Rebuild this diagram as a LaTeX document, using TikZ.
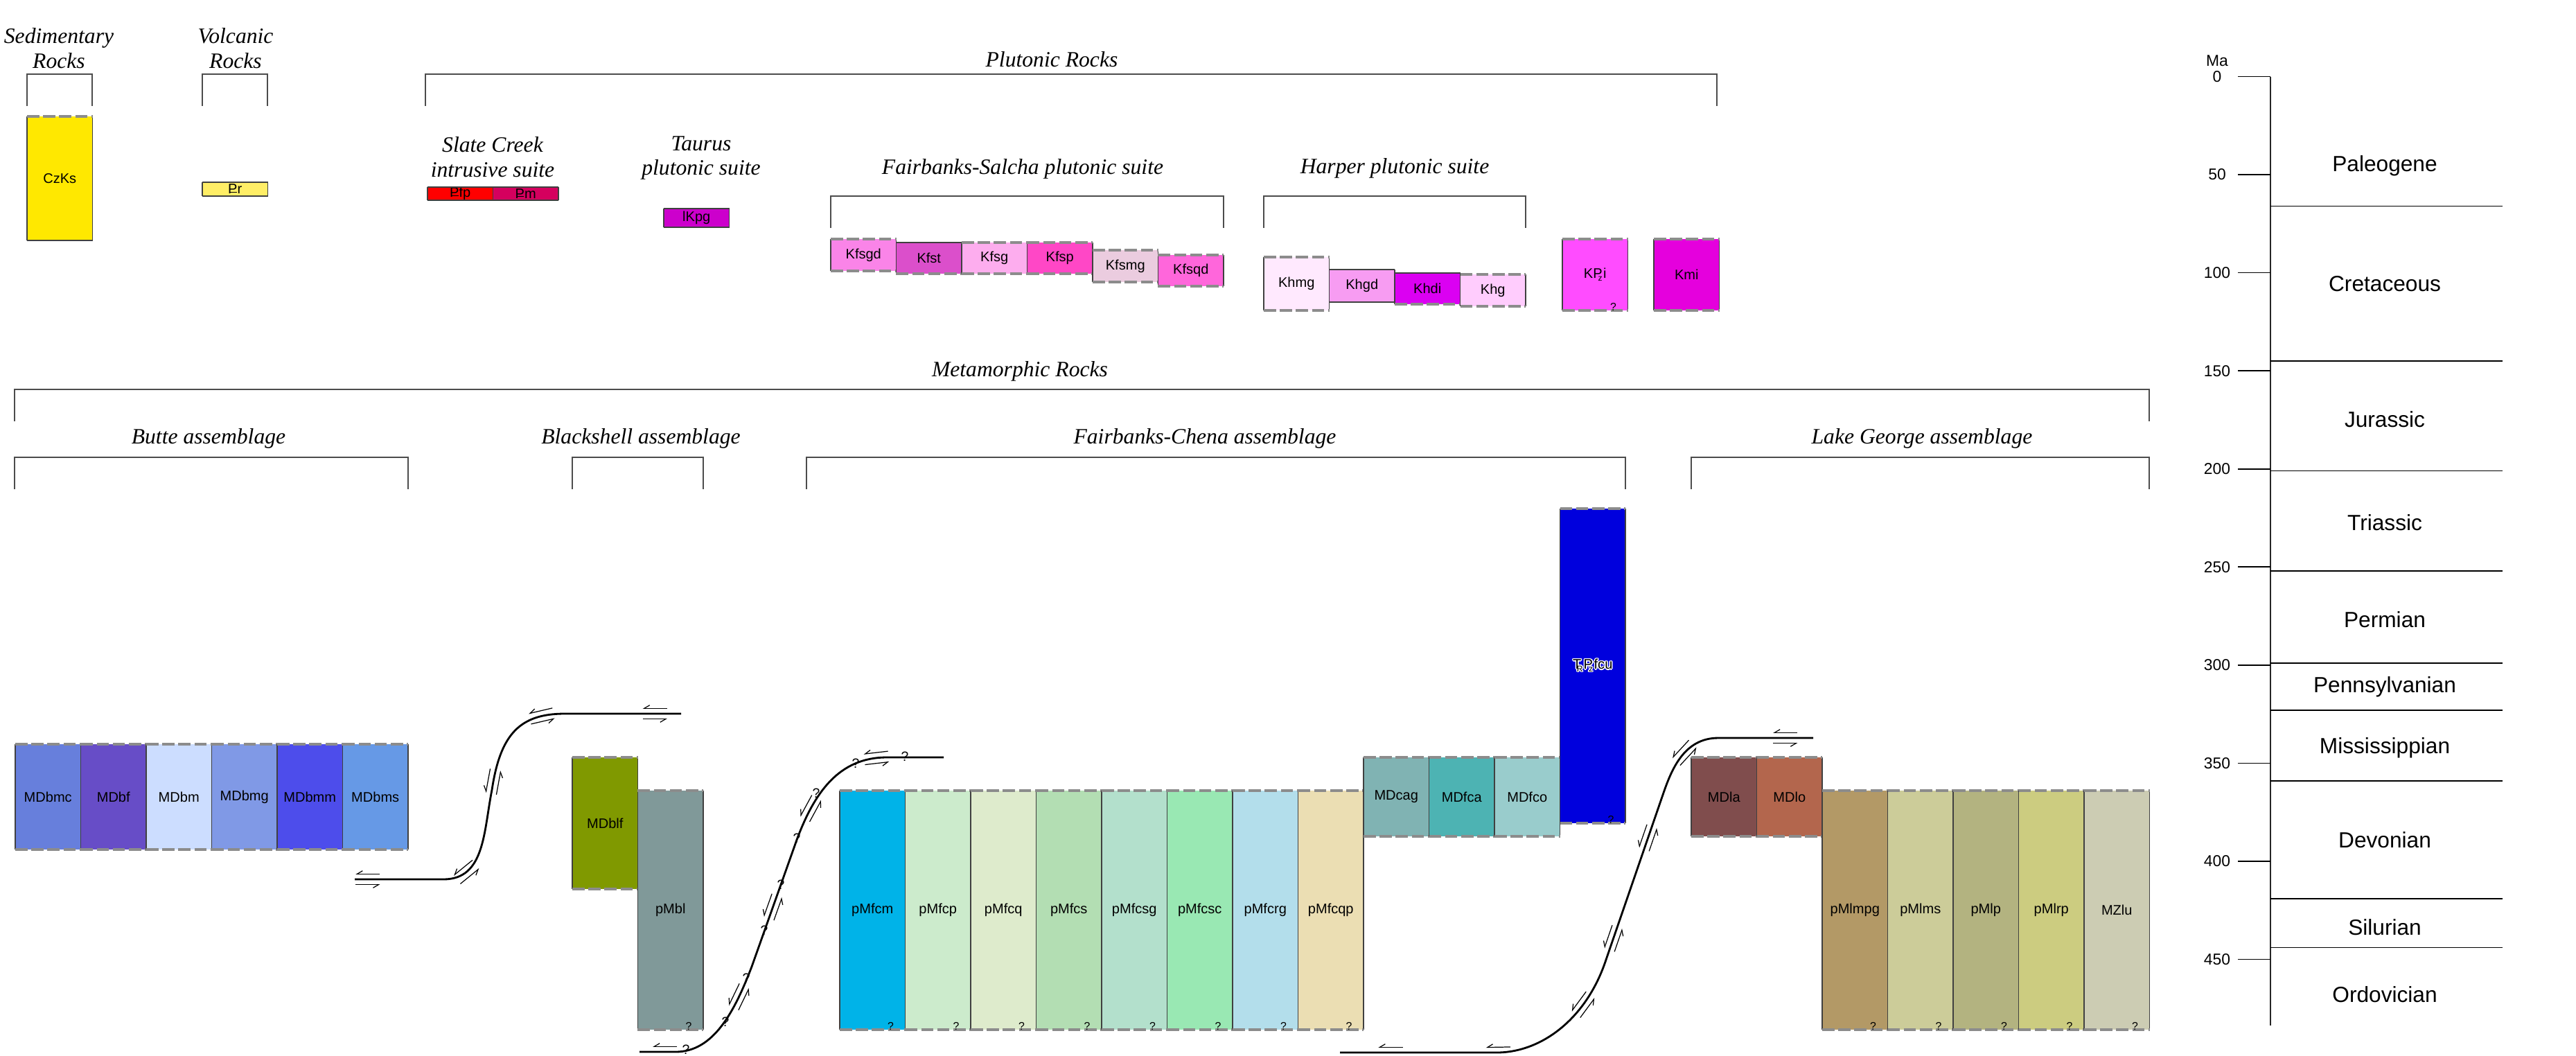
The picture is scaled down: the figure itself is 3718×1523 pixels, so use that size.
\documentclass[tikz,border=0pt]{standalone}
\usepackage{fontspec}
\setmainfont{Liberation Sans}
\newfontfamily\capfont{Liberation Serif}
\usepackage{contour}
\contourlength{0.45pt}
\contournumber{8}
\usetikzlibrary{arrows.meta,decorations.markings}

\definecolor{CzKs}{HTML}{FFE800}
\definecolor{Pr}{HTML}{FFEE66}
\definecolor{Pfp}{HTML}{FF0000}
\definecolor{Pm}{HTML}{D5005E}
\definecolor{lKpg}{HTML}{CC00CC}
\definecolor{Kfsgd}{HTML}{FA84E8}
\definecolor{Kfst}{HTML}{DB4FCB}
\definecolor{Kfsg}{HTML}{FDADEE}
\definecolor{Kfsp}{HTML}{FF47C6}
\definecolor{Kfsmg}{HTML}{EBCCDF}
\definecolor{Kfsqd}{HTML}{FF66DB}
\definecolor{Khmg}{HTML}{FFE9FE}
\definecolor{Khgd}{HTML}{F79CF2}
\definecolor{Khdi}{HTML}{DB00F2}
\definecolor{Khg}{HTML}{FFCCFD}
\definecolor{KPzi}{HTML}{FF4CFF}
\definecolor{Kmi}{HTML}{E500DD}
\definecolor{MDbmc}{HTML}{677FDC}
\definecolor{MDbf}{HTML}{674DC7}
\definecolor{MDbm}{HTML}{CCDDFF}
\definecolor{MDbmg}{HTML}{8099E6}
\definecolor{MDbmm}{HTML}{4D4DEB}
\definecolor{MDbms}{HTML}{6699E6}
\definecolor{MDblf}{HTML}{809900}
\definecolor{pMbl}{HTML}{809999}
\definecolor{pMfcm}{HTML}{00B3E8}
\definecolor{pMfcp}{HTML}{CCEBCC}
\definecolor{pMfcq}{HTML}{DEEBCC}
\definecolor{pMfcs}{HTML}{B3DEB3}
\definecolor{pMfcsg}{HTML}{B3E0CC}
\definecolor{pMfcsc}{HTML}{99E8B3}
\definecolor{pMfcrg}{HTML}{B3DEEB}
\definecolor{pMfcqp}{HTML}{EBDEB3}
\definecolor{MDcag}{HTML}{80B3B3}
\definecolor{MDfca}{HTML}{4DB3B3}
\definecolor{MDfco}{HTML}{99CCCC}
\definecolor{TRPzfcu}{HTML}{0000DD}
\definecolor{MDla}{HTML}{804D4D}
\definecolor{MDlo}{HTML}{B3664D}
\definecolor{pMlmpg}{HTML}{B39966}
\definecolor{pMlms}{HTML}{CCCC99}
\definecolor{pMlp}{HTML}{B3B380}
\definecolor{pMlrp}{HTML}{CCCC80}
\definecolor{MZlu}{HTML}{CCCCB3}

\newcommand{\Pgsym}{P\kern-0.55em\rule[0.2ex]{0.5em}{0.09ex}\kern0.05em}
\newcommand{\Pzsym}{P\kern-0.3em\raisebox{-0.35ex}{\scalebox{0.6}{z}}\kern0.08em}
\newcommand{\TRsym}{T\kern-0.32em\raisebox{-0.35ex}{\scalebox{0.6}{R}}\kern0.05em}

\tikzset{
	rock/.style={rectangle, inner sep=0pt, outer sep=0pt, minimum width=0.945cm, font=\fontsize{5.7}{6.5}\selectfont},
	side/.style={draw=black!75, line width=0.45pt},
	rim/.style={draw=black!75, line width=0.6pt},
	contact/.style={draw=black!45, line width=0.9pt, dash pattern=on 5pt off 1.6pt},
	query/.style={inner sep=0pt, font=\fontsize{4.5}{5}\selectfont},
	capt/.style={inner sep=0pt, align=center, font=\capfont\itshape\fontsize{9}{10.2}\selectfont},
	bracket/.style={draw=black!70, line width=0.7pt},
	fault/.style={line width=0.8pt, postaction={decorate}},
	slipline/.style={line width=0.35pt, -{Straight Barb[right, length=2.2pt, width=2.6pt]}},
	slip/.pic={\draw[slipline] (5pt,2.2pt) -- (-5pt,2.2pt); \draw[slipline] (-5pt,-2.2pt) -- (5pt,-2.2pt);},
	ma/.style={inner sep=0pt, font=\fontsize{6.5}{7}\selectfont},
	period/.style={inner sep=0pt, font=\fontsize{9}{10}\selectfont},
}

\newcommand{\rockcol}[7]{%
	\node[rock, fill=#1, minimum height={(#4-#3)*0.01cm}] (#1) at ({#2+47.25},{(#3+#4)/2}) {#5};
	\draw[side] (#1.north west) -- (#1.south west) (#1.north east) -- (#1.south east);
	\draw[#6] (#1.north west) -- (#1.north east);
	\draw[#7] (#1.south west) -- (#1.south east);
}
\newcommand{\askq}[1]{\node[query] (#1q) at ([xshift=-0.21cm,yshift=0.05cm]#1.south east) {?};}

\begin{document}
\begin{tikzpicture}[x=0.01cm, y=-0.01cm]
	\useasboundingbox (0,0) rectangle (3718,1523);

	\node[capt] (sedt) at (85,70) {Sedimentary\\Rocks};
	\node[capt] (volt) at (340,70) {Volcanic\\Rocks};
	\node[capt] (plut) at (1518,86) {Plutonic Rocks};
	\node[capt] (slat) at (711,227) {Slate Creek\\intrusive suite};
	\node[capt] (taut) at (1012,228) {Taurus\\plutonic suite};
	\node[capt] (fsat) at (1476,244) {Fairbanks-Salcha plutonic suite};
	\node[capt] (hart) at (2013,243) {Harper plutonic suite};
	\node[capt] (metat) at (1472,536) {Metamorphic Rocks};
	\node[capt] (butt) at (301,633) {Butte assemblage};
	\node[capt] (blat) at (925,633) {Blackshell assemblage};
	\node[capt] (fcht) at (1739,633) {Fairbanks-Chena assemblage};
	\node[capt] (lgt) at (2774,633) {Lake George assemblage};

	\foreach \a/\b/\t in {39/133/107, 292/386/107, 614/2478/107, 1199/1766/283, 1824/2202/283, 21/3102/562, 21/589/660, 826/1015/660, 1164/2346/660, 2441/3102/660}
		\draw[bracket] (\a,{\t+46}) -- (\a,\t) -- (\b,\t) -- (\b,{\t+46});

	\rockcol{CzKs}{39}{168}{347}{CzKs}{contact}{rim}
	\rockcol{Pr}{292}{263}{283}{\Pgsym r}{rim}{rim}
	\rockcol{Pfp}{617}{270}{289}{\Pgsym fp}{rim}{rim}
	\rockcol{Pm}{711.5}{270}{289}{\Pgsym m}{rim}{rim}
	\rockcol{lKpg}{958}{301}{328}{lKpg}{rim}{rim}
	\rockcol{Kfsgd}{1199}{345}{391}{Kfsgd}{contact}{contact}
	\rockcol{Kfst}{1293.5}{350}{395}{Kfst}{rim}{contact}
	\rockcol{Kfsg}{1388}{350}{395}{Kfsg}{contact}{contact}
	\rockcol{Kfsp}{1482.5}{350}{395}{Kfsp}{contact}{contact}
	\rockcol{Kfsmg}{1577}{361}{407}{Kfsmg}{contact}{contact}
	\rockcol{Kfsqd}{1671.5}{368}{413}{Kfsqd}{contact}{contact}
	\rockcol{Khmg}{1824}{371}{448}{Khmg}{contact}{contact}
	\rockcol{Khgd}{1918.5}{389}{436}{Khgd}{rim}{rim}
	\rockcol{Khdi}{2013}{394}{439}{Khdi}{rim}{contact}
	\rockcol{Khg}{2107.5}{396}{442}{Khg}{contact}{contact}
	\rockcol{KPzi}{2255}{345}{448}{K\Pzsym i}{contact}{contact}
	\askq{KPzi}
	\rockcol{Kmi}{2387}{345}{448}{Kmi}{contact}{contact}

	\foreach \n [count=\i from 0] in {MDbmc,MDbf,MDbm,MDbmg,MDbmm,MDbms}
		{\rockcol{\n}{22+94.5*\i}{1074}{1226}{\n}{contact}{contact}}
	\rockcol{MDblf}{826}{1093}{1283}{MDblf}{contact}{contact}
	\rockcol{pMbl}{920.5}{1141}{1486}{pMbl}{contact}{contact}
	\askq{pMbl}
	\foreach \n [count=\i from 0] in {pMfcm,pMfcp,pMfcq,pMfcs,pMfcsg,pMfcsc,pMfcrg,pMfcqp}
		{\rockcol{\n}{1212+94.5*\i}{1141}{1486}{\n}{contact}{contact}\askq{\n}}
	\foreach \n [count=\i from 0] in {MDcag,MDfca,MDfco}
		{\rockcol{\n}{1968+94.5*\i}{1093}{1207}{\n}{contact}{contact}}
	\rockcol{TRPzfcu}{2251.5}{734}{1188}{\contour{white}{\TRsym\Pzsym fcu}}{contact}{contact}
	\askq{TRPzfcu}
	\foreach \n [count=\i from 0] in {MDla,MDlo}
		{\rockcol{\n}{2441+94.5*\i}{1093}{1207}{\n}{contact}{contact}}
	\foreach \n [count=\i from 0] in {pMlmpg,pMlms,pMlp,pMlrp,MZlu}
		{\rockcol{\n}{2630+94.5*\i}{1141}{1486}{\n}{contact}{contact}\askq{\n}}

	\coordinate (f1a) at (512,1269);
	\coordinate (f1b) at (983,1030);
	\draw[fault, decoration={markings,
		mark=at position 0.03 with {\pic[transform shape]{slip};},
		mark=at position 0.26 with {\pic[transform shape]{slip};},
		mark=at position 0.48 with {\pic[transform shape]{slip};},
		mark=at position 0.68 with {\pic[transform shape]{slip};},
		mark=at position 0.94 with {\pic[transform shape]{slip};}}]
		(f1a) -- (640,1269) .. controls (700,1269) and (698,1200) .. (710,1140)
		.. controls (722,1060) and (750,1030) .. (815,1030) -- (f1b);

	\coordinate (f2a) at (923,1518);
	\coordinate (f2b) at (1362,1093);
	\draw[fault, decoration={markings,
		mark=at position 0.053 with {\pic[transform shape]{slip};},
		mark=at position 0.26 with {\pic[transform shape]{slip};},
		mark=at position 0.46 with {\pic[transform shape]{slip};},
		mark=at position 0.68 with {\pic[transform shape]{slip};},
		mark=at position 0.86 with {\pic[transform shape]{slip};}}]
		(f2a) -- (975,1518) .. controls (1030,1518) and (1060,1460) .. (1085,1395)
		-- (1150,1212) .. controls (1175,1145) and (1210,1093) .. (1280,1093) -- (f2b);
	\foreach \p [count=\i] in {(990,1515),(1047,1475),(1077,1412),(1103,1343),(1127,1277),(1150,1210),(1178,1145),(1235,1102),(1306,1092)}
		\node[query, font=\fontsize{5.5}{6}\selectfont] (fq\i) at \p {?};

	\coordinate (f3a) at (1934,1519);
	\coordinate (f3b) at (2617,1065);
	\draw[fault, decoration={markings,
		mark=at position 0.076 with {\pic[transform shape]{slip};},
		mark=at position 0.238 with {\pic[transform shape]{slip};},
		mark=at position 0.39 with {\pic[transform shape]{slip};},
		mark=at position 0.50 with {\pic[transform shape]{slip};},
		mark=at position 0.66 with {\pic[transform shape]{slip};},
		mark=at position 0.80 with {\pic[transform shape]{slip};},
		mark=at position 0.958 with {\pic[transform shape]{slip};}}]
		(f3a) -- (2160,1519) .. controls (2225,1519) and (2290,1470) .. (2318,1385)
		-- (2400,1147) .. controls (2412,1112) and (2430,1065) .. (2480,1065) -- (f3b);

	\draw[line width=0.45pt, draw=black!85] (3277,110.5) -- (3277,1480);
	\node[ma] (matitle) at (3200,88) {Ma};
	\foreach \a in {0,50,...,450} {
		\draw[line width=0.45pt] (3230,{110.5+2.831*\a}) -- (3277,{110.5+2.831*\a});
		\node[ma] (ma\a) at (3200,{110.5+2.831*\a}) {\a};
	}
	\foreach \a in {66,145,201,252,299,323,359,419,444}
		\draw[line width=0.45pt] (3277,{110.5+2.831*\a}) -- (3612,{110.5+2.831*\a});
	\foreach \p/\y in {Paleogene/239, Cretaceous/410, Jurassic/605, Triassic/754, Permian/894, Pennsylvanian/991, Mississippian/1079, Devonian/1212, Silurian/1338, Ordovician/1435}
		\node[period] (\p) at (3442,\y) {\p};
\end{tikzpicture}
\end{document}
